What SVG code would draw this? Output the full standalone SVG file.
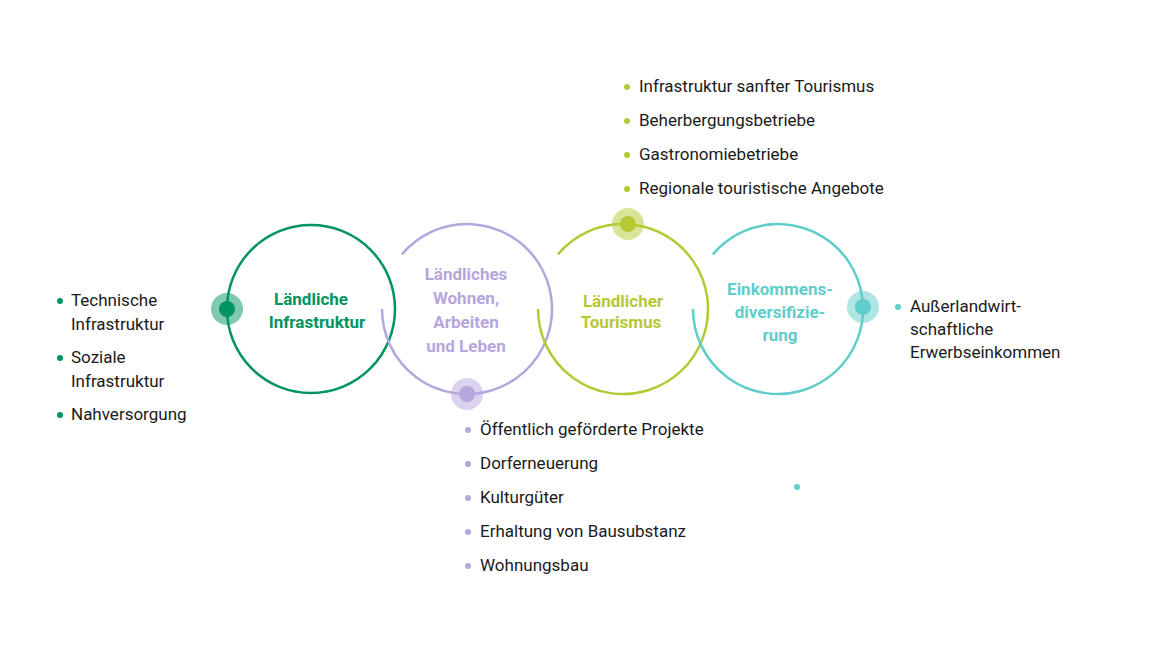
<svg xmlns="http://www.w3.org/2000/svg" width="1150" height="656" viewBox="0 0 1150 656">
<style>
text{font-family:Roboto,"Liberation Sans",sans-serif;font-size:17px;fill:#1a1a1a}
.t{font-weight:bold;font-size:17px;text-anchor:middle}
.ring{fill:none;stroke-width:2.5}
</style>
<rect width="1150" height="656" fill="#fff"/>
<g id="connectors">
<circle cx="797" cy="487" r="3" fill="#5fcdc9"/>
</g>
<g id="n1">
<circle class="ring" cx="311" cy="309" r="84" stroke="#009461"/>
<circle cx="227" cy="309" r="16" fill="#009461" opacity="0.5"/>
<circle cx="227" cy="309" r="8" fill="#009461"/>
<text class="t" x="311" y="305" fill="#009461" style="fill:#009461">Ländliche</text>
<text class="t" x="317" y="328" style="fill:#009461">Infrastruktur</text>
</g>
<g id="n2">
<path class="ring" stroke="#b5a6dd" d="M401.9,254.4 A85,85 0 1 1 382,309"/>
<circle cx="467" cy="394" r="16" fill="#b5a6dd" opacity="0.5"/>
<circle cx="467" cy="394" r="8" fill="#b5a6dd"/>
<text class="t" style="fill:#b5a6dd" x="466" y="280">Ländliches</text>
<text class="t" style="fill:#b5a6dd" x="466" y="304">Wohnen,</text>
<text class="t" style="fill:#b5a6dd" x="466" y="328">Arbeiten</text>
<text class="t" style="fill:#b5a6dd" x="466" y="352">und Leben</text>
<g fill="#b5a6dd"><circle cx="468" cy="430" r="3"/><circle cx="468" cy="464" r="3"/><circle cx="468" cy="498" r="3"/><circle cx="468" cy="532" r="3"/><circle cx="468" cy="566" r="3"/></g>
<text x="480" y="435">Öffentlich geförderte Projekte</text>
<text x="480" y="469">Dorferneuerung</text>
<text x="480" y="503">Kulturgüter</text>
<text x="480" y="537">Erhaltung von Bausubstanz</text>
<text x="480" y="571">Wohnungsbau</text>
</g>
<g id="n3">
<path class="ring" stroke="#b5c934" d="M557.9,254.4 A85,85 0 1 1 538,309"/>
<circle cx="628" cy="224" r="16" fill="#b5c934" opacity="0.5"/>
<circle cx="628" cy="224" r="8" fill="#b5c934"/>
<text class="t" style="fill:#b5c934" x="623" y="307">Ländlicher</text>
<text class="t" style="fill:#b5c934" x="621" y="328">Tourismus</text>
<g fill="#b5c934"><circle cx="627" cy="87" r="3"/><circle cx="627" cy="121" r="3"/><circle cx="627" cy="155" r="3"/><circle cx="627" cy="189" r="3"/></g>
<text x="639" y="92">Infrastruktur sanfter Tourismus</text>
<text x="639" y="126">Beherbergungsbetriebe</text>
<text x="639" y="160">Gastronomiebetriebe</text>
<text x="639" y="194">Regionale touristische Angebote</text>
</g>
<g id="n4">
<path class="ring" stroke="#5fcdc9" d="M712.9,254.4 A85,85 0 1 1 693,309"/>
<circle cx="863" cy="307" r="16" fill="#5fcdc9" opacity="0.5"/>
<circle cx="863" cy="307" r="8" fill="#5fcdc9"/>
<text class="t" style="fill:#5fcdc9" x="780" y="295">Einkommens-</text>
<text class="t" style="fill:#5fcdc9" x="780" y="318">diversifizie-</text>
<text class="t" style="fill:#5fcdc9" x="780" y="341">rung</text>
<circle cx="898" cy="307" r="3" fill="#5fcdc9"/>
<text x="910" y="312">Außerlandwirt-</text>
<text x="910" y="335">schaftliche</text>
<text x="910" y="358">Erwerbseinkommen</text>
</g>
<g id="list1">
<g fill="#009461"><circle cx="60" cy="301" r="3"/><circle cx="60" cy="358" r="3"/><circle cx="60" cy="415" r="3"/></g>
<text x="71" y="306">Technische</text>
<text x="71" y="330">Infrastruktur</text>
<text x="71" y="363">Soziale</text>
<text x="71" y="387">Infrastruktur</text>
<text x="71" y="420">Nahversorgung</text>
</g>
</svg>
